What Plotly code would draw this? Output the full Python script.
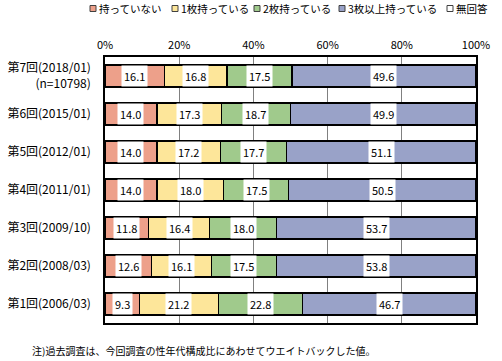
import plotly.graph_objects as go

categories = ["第7回(2018/01)<br>(n=10798)", "第6回(2015/01)", "第5回(2012/01)",
              "第4回(2011/01)", "第3回(2009/10)", "第2回(2008/03)", "第1回(2006/03)"]
series_names = ["持っていない", "1枚持っている", "2枚持っている", "3枚以上持っている", "無回答"]
none_vals = [16.1, 14.0, 14.0, 14.0, 11.8, 12.6, 9.3]
one_vals = [16.8, 17.3, 17.2, 18.0, 16.4, 16.1, 21.2]
two_vals = [17.5, 18.7, 17.7, 17.5, 18.0, 17.5, 22.8]
three_vals = [49.6, 49.9, 51.1, 50.5, 53.7, 53.8, 46.7]
na_vals = [0.0, 0.1, 0.0, 0.0, 0.1, 0.0, 0.0]
x_ticks = [0, 20, 40, 60, 80, 100]
x_ticklabels = ["0%", "20%", "40%", "60%", "80%", "100%"]
note = "注)過去調査は、今回調査の性年代構成比にあわせてウエイトバックした値。"

colors = ["#EDA08A", "#FDE69A", "#A0CA8C", "#99A2C8", "#FFFFFF"]
series = [none_vals, one_vals, two_vals, three_vals, na_vals]

FONT = "Noto Sans CJK JP"
W, H = 502, 361
ML, MR, MT, MB = 105, 26, 57, 38
PW, PH = W - ML - MR, H - MT - MB


def px_x(px):
    return (px - ML) / PW


def px_y(py):
    return (H - MB - py) / PH


fig = go.Figure()
for name, vals, col in zip(series_names, series, colors):
    fig.add_trace(go.Bar(
        y=categories, x=vals, name=name, orientation="h",
        marker=dict(color=col, line=dict(color="#000000", width=1.2)),
        width=0.58, hoverinfo="x+name", showlegend=False,
    ))

# value labels with white boxes
for si in range(4):
    for ci, cat in enumerate(categories):
        base = sum(series[k][ci] for k in range(si))
        v = series[si][ci]
        fig.add_annotation(
            x=base + v / 2, y=ci, xref="x", yref="y",
            text=f"{v:.1f}", showarrow=False,
            font=dict(family=FONT, size=11, color="#000000"),
            bgcolor="#FFFFFF", borderpad=2,
        )

# manual legend (layout decoration)
legend_x = [90, 172, 254, 339, 447]
for lx, name, col in zip(legend_x, series_names, colors):
    fig.add_shape(type="rect", xref="paper", yref="paper",
                  x0=px_x(lx), x1=px_x(lx + 6), y0=px_y(5.5), y1=px_y(11.5),
                  fillcolor=col, line=dict(color="#404040", width=1))
    fig.add_annotation(x=px_x(lx + 7), y=px_y(8.5), xref="paper", yref="paper",
                       text=name, showarrow=False, xanchor="left", yanchor="middle",
                       font=dict(family=FONT, size=10.5, color="#000000"))

fig.add_annotation(
    x=px_x(30), y=px_y(350), xref="paper", yref="paper", text=note, showarrow=False,
    xanchor="left", yanchor="middle",
    font=dict(family=FONT, size=10, color="#000000"),
)

fig.update_layout(
    barmode="stack",
    width=W, height=H,
    margin=dict(l=ML, r=MR, t=MT, b=MB),
    paper_bgcolor="#FFFFFF", plot_bgcolor="#FFFFFF",
    font=dict(family=FONT, size=12, color="#000000"),
    showlegend=False,
    xaxis=dict(range=[0, 100], tickvals=x_ticks, ticktext=x_ticklabels, side="top",
               showgrid=True, gridcolor="#808080", gridwidth=1,
               showline=True, linecolor="#000000", linewidth=1.5, mirror=True,
               ticks="", zeroline=False, fixedrange=True, automargin=False,
               ticklabelstandoff=2, tickfont=dict(family=FONT, size=11)),
    yaxis=dict(categoryorder="array", categoryarray=categories, autorange="reversed",
               showline=True, linecolor="#000000", linewidth=1.5, mirror=True,
               showgrid=False, ticks="", ticklabelstandoff=10, automargin=False,
               fixedrange=True, tickfont=dict(family=FONT, size=12)),
)

fig.write_html("out.html", config={"displayModeBar": False},
               post_script="document.body.style.margin='0';document.body.style.padding='0';")
